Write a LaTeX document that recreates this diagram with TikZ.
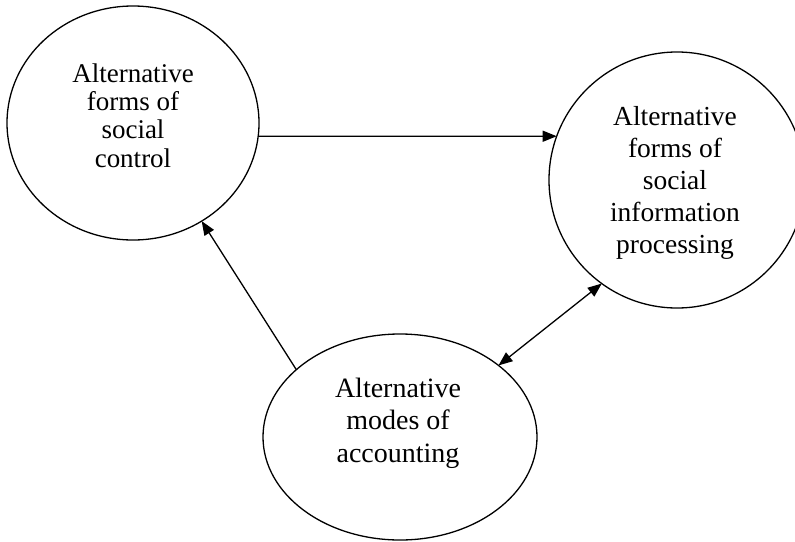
\documentclass[tikz,border=0pt]{standalone}
\usepackage{fontspec}
\setmainfont{Liberation Serif}
\usetikzlibrary{shapes.geometric,arrows.meta}
\begin{document}
\begin{tikzpicture}[x=1pt,y=-1pt,
  bubble/.style={draw, ellipse, line width=1.3pt, inner sep=0pt, outer sep=0pt},
  caption/.style={align=center, inner sep=0pt, font=\fontsize{28}{32}\selectfont},
  tip/.style={Triangle[length=14pt,width=11pt]},
  link/.style={line width=1.3pt, -{Triangle[length=14pt,width=11pt]}},
  twoway/.style={line width=1.3pt, {Triangle[length=14pt,width=11pt]}-{Triangle[length=14pt,width=11pt]}}]
\useasboundingbox (0,0) rectangle (795,541);
\clip (0,0) rectangle (795,541);

% the three ellipses
\node[bubble, minimum width=252pt, minimum height=234pt] (ctrl) at (133,123) {};
\node[bubble, minimum width=256pt, minimum height=256pt] (info) at (677,180) {};
\node[bubble, minimum width=274pt, minimum height=206pt] (acct) at (400,437) {};

% their captions
\node[caption, font=\fontsize{27}{28.3}\selectfont] (ctrlText) at (133,119)
  {\strut Alternative\\\strut forms of\\\strut social\\\strut control};
\node[caption, font=\fontsize{27.5}{32}\selectfont] (infoText) at (675,183)
  {\strut Alternative\\\strut forms of\\\strut social\\\strut information\\\strut processing};
\node[caption, font=\fontsize{28}{32.5}\selectfont] (acctText) at (398,423)
  {\strut Alternative\\\strut modes of\\\strut accounting};

% connectors
\draw[link] (ctrl.-6.4) -- (info.160.6);
\draw[link] (acct.147.9) -- (ctrl.-55.9);
\draw[twoway] (acct.36) -- (info.-126);
\end{tikzpicture}
\end{document}
